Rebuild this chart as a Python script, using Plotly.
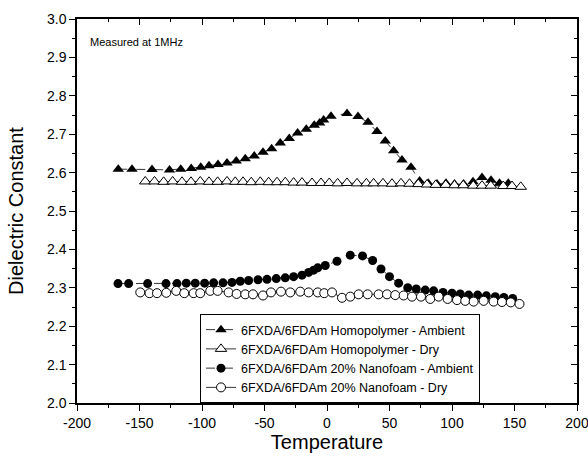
import plotly.graph_objects as go

# Homopolymer - Ambient (filled triangles)
homo_amb_x = [-167, -156, -140, -126, -117, -108.6, -101, -94.4, -87.2, -80, -72.6, -65.4, -58.2, -51.2,
              -44.3, -37.4, -30.2, -23.5, -16.6, -10.2, -5.9, -2.7, 3.2, 16, 24.8, 32.8, 40, 46.6, 53.3,
              60, 67.2, 74.1, 81, 88, 95.2, 102, 109.3, 116.8, 124, 131.2, 138, 145]
homo_amb_y = [2.609, 2.609, 2.608, 2.607, 2.609, 2.611, 2.614, 2.618, 2.621, 2.625, 2.630, 2.636, 2.643, 2.653,
              2.662, 2.677, 2.689, 2.703, 2.713, 2.723, 2.729, 2.737, 2.747, 2.754, 2.746, 2.731, 2.707, 2.682, 2.657,
              2.633, 2.614, 2.578, 2.572, 2.570, 2.572, 2.570, 2.570, 2.576, 2.587, 2.580, 2.572, 2.572]

# Homopolymer - Dry (open triangles)
homo_dry_x = [-145.4, -138, -130.7, -123.5, -116, -108.8, -101.4, -94.4, -87.5, -80, -73.4, -67.2, -60.6,
              -53.4, -46.7, -40, -33.4, -26.7, -20, -12, -4.8, 1.8, 8.5, 16, 24, 31.5, 37.3, 44.8, 52, 59.2,
              66, 73, 80, 87, 95, 102, 109, 117, 124, 131, 141, 148, 155]
homo_dry_y = [2.577, 2.577, 2.576, 2.577, 2.576, 2.576, 2.577, 2.576, 2.576, 2.577, 2.576, 2.576, 2.575,
              2.576, 2.575, 2.575, 2.575, 2.574, 2.574, 2.573, 2.573, 2.573, 2.572, 2.573, 2.572, 2.572, 2.572, 2.572, 2.571, 2.572,
              2.571, 2.570, 2.569, 2.568, 2.568, 2.567, 2.567, 2.566, 2.566, 2.566, 2.565, 2.565, 2.563]

# 20% Nanofoam - Ambient (filled circles)
nano_amb_x = [-167.2, -158.7, -143.5, -128.8, -120, -112.6, -105.4, -97.9, -90.7, -83.2, -76, -69.4, -62.7,
              -55.2, -48, -40.6, -33.4, -26.7, -20, -14.7, -10.7, -7.4, -1.4, 8, 18.6, 28.4, 36.5, 43.2, 50,
              57.3, 64.6, 71.4, 78.6, 85.3, 92.8, 100, 106.6, 113.3, 120.5, 127.5, 134.6, 141.5, 148.5]
nano_amb_y = [2.311, 2.311, 2.311, 2.311, 2.311, 2.312, 2.312, 2.312, 2.313, 2.313, 2.314, 2.317, 2.319,
              2.321, 2.322, 2.324, 2.326, 2.329, 2.333, 2.340, 2.346, 2.352, 2.358, 2.369, 2.385, 2.383, 2.371, 2.349, 2.329,
              2.312, 2.300, 2.297, 2.294, 2.292, 2.288, 2.286, 2.284, 2.281, 2.281, 2.279, 2.277, 2.275, 2.272]

# 20% Nanofoam - Dry (open circles)
nano_dry_x = [-149.4, -142, -136, -128.6, -120.6, -114.2, -106.7, -101.4, -93.4, -87.5, -78.7, -72.3, -65.4,
              -59.2, -51.2, -44.8, -36.8, -29.4, -21.4, -14.7, -7.4, -2.2, 4, 12, 18.6, 25.3, 32.5, 41.3, 48,
              54.6, 61.3, 68, 75.2, 82.6, 89.3, 96.5, 104, 110.6, 117.3, 125.3, 133.3, 140, 147, 154]
nano_dry_y = [2.288, 2.286, 2.286, 2.287, 2.292, 2.286, 2.286, 2.286, 2.292, 2.292, 2.288, 2.284, 2.283,
              2.283, 2.280, 2.288, 2.290, 2.288, 2.290, 2.288, 2.288, 2.286, 2.288, 2.274, 2.277, 2.283, 2.283, 2.283, 2.283,
              2.281, 2.280, 2.277, 2.277, 2.271, 2.277, 2.271, 2.268, 2.266, 2.264, 2.266, 2.264, 2.263, 2.262, 2.258]

names = ["6FXDA/6FDAm Homopolymer - Ambient", "6FXDA/6FDAm Homopolymer - Dry",
         "6FXDA/6FDAm 20% Nanofoam - Ambient", "6FXDA/6FDAm 20% Nanofoam - Dry"]

x_tickvals = [-200, -150, -100, -50, 0, 50, 100, 150, 200]
x_ticktext = ["-200", "-150", "-100", "-50", "0", "50", "100", "150", "200"]
y_tickvals = [2.0, 2.1, 2.2, 2.3, 2.4, 2.5, 2.6, 2.7, 2.8, 2.9, 3.0]
y_ticktext = ["2.0", "2.1", "2.2", "2.3", "2.4", "2.5", "2.6", "2.7", "2.8", "2.9", "3.0"]

FONT = "Liberation Sans, Arial, sans-serif"
fig = go.Figure()
fig.add_trace(go.Scatter(x=homo_amb_x, y=homo_amb_y, name=names[0], mode="lines+markers",
                         line=dict(color="black", width=0.8, dash="dash"),
                         marker=dict(symbol="triangle-up", size=10, color="black")))
fig.add_trace(go.Scatter(x=homo_dry_x, y=homo_dry_y, name=names[1], mode="lines+markers",
                         line=dict(color="black", width=0.8),
                         marker=dict(symbol="triangle-up", size=10, color="white",
                                     line=dict(color="black", width=1))))
fig.add_trace(go.Scatter(x=nano_amb_x, y=nano_amb_y, name=names[2], mode="lines+markers",
                         line=dict(color="black", width=0.8, dash="dash"),
                         marker=dict(symbol="circle", size=9, color="black")))
fig.add_trace(go.Scatter(x=nano_dry_x, y=nano_dry_y, name=names[3], mode="lines+markers",
                         line=dict(color="black", width=0.8),
                         marker=dict(symbol="circle", size=9, color="white",
                                     line=dict(color="black", width=1))))

# invisible trace for mirrored axes
fig.add_trace(go.Scatter(x=[-200, 200], y=[2.0, 3.0], xaxis="x2", yaxis="y2", mode="markers",
                         marker=dict(opacity=0), showlegend=False, hoverinfo="skip"))

axis_common = dict(showgrid=False, zeroline=False, showline=True, linecolor="black", linewidth=1.5,
                   tickcolor="black", tickwidth=1.2, automargin=False)
fig.update_layout(
    width=588, height=460,
    margin=dict(l=77, r=11, t=19, b=57),
    paper_bgcolor="white", plot_bgcolor="white",
    font=dict(family=FONT, color="black"),
    xaxis=dict(range=[-200, 200], tickmode="array", tickvals=x_tickvals, ticktext=x_ticktext,
               ticks="outside", ticklen=6, ticklabeloverflow="allow",
               minor=dict(ticks="outside", tickmode="linear", tick0=-200, dtick=25, ticklen=3, tickcolor="black"),
               tickfont=dict(size=14), title=dict(text="Temperature", font=dict(size=20), standoff=3),
               **axis_common),
    yaxis=dict(range=[2.0, 3.0], tickmode="array", tickvals=y_tickvals, ticktext=y_ticktext,
               ticks="outside", ticklen=6, ticklabeloverflow="allow",
               minor=dict(ticks="outside", tickmode="linear", tick0=2.0, dtick=0.05, ticklen=3, tickcolor="black"),
               tickfont=dict(size=14), title=dict(text="Dielectric Constant", font=dict(size=20), standoff=18),
               **axis_common),
    xaxis2=dict(range=[-200, 200], overlaying="x", side="top", dtick=50, ticks="inside", ticklen=6,
                minor=dict(ticks="inside", dtick=25, ticklen=3, tickcolor="black"),
                showticklabels=False, **axis_common),
    yaxis2=dict(range=[2.0, 3.0], overlaying="y", side="right", dtick=0.1, ticks="inside", ticklen=6,
                minor=dict(ticks="inside", dtick=0.05, ticklen=3, tickcolor="black"),
                showticklabels=False, **axis_common),
    legend=dict(x=0.246, y=0.0, xanchor="left", yanchor="bottom", bgcolor="white",
                bordercolor="black", borderwidth=1, font=dict(size=12.5, family=FONT),
                tracegroupgap=0, itemwidth=30),
    showlegend=True,
    annotations=[dict(text="Measured at 1MHz", x=0.022, y=0.94, xref="paper", yref="paper",
                      xanchor="left", yanchor="middle", showarrow=False, font=dict(size=11))],
)

fig.write_html("out.html", config={"displayModeBar": False},
               post_script="document.body.style.margin='0';document.body.style.padding='0';"
                           "document.documentElement.style.overflow='hidden';")
